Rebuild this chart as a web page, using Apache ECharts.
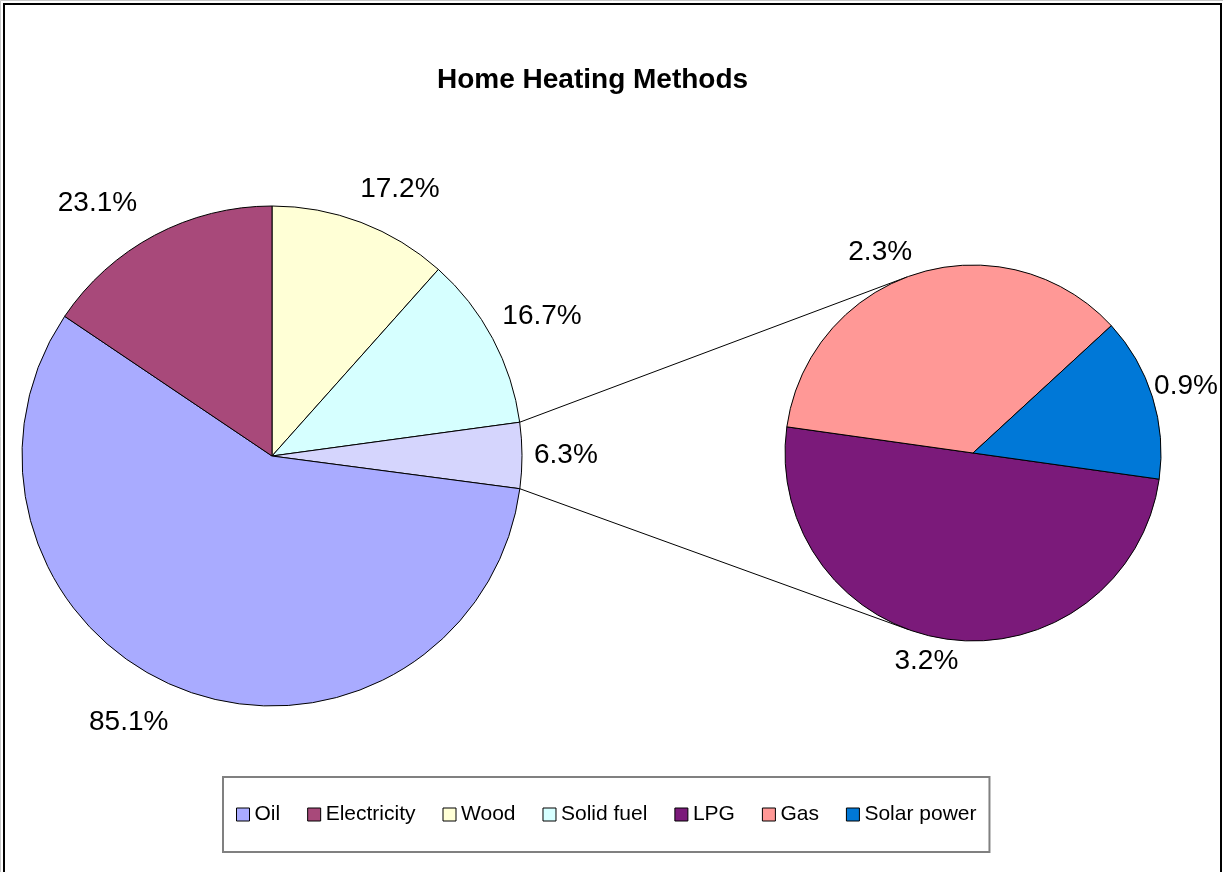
<!DOCTYPE html>
<html>
<head>
<meta charset="utf-8">
<script src="https://cdn.jsdelivr.net/npm/echarts@6/dist/echarts.min.js"></script>
<style>
  html, body { margin: 0; padding: 0; background: #fff; }
  #chart { width: 1223px; height: 872px; }
</style>
</head>
<body>
<div id="chart"></div>
<script>
  // main pie, clockwise from 12 o'clock
  var mainNames = ['Wood', 'Solid fuel', 'Other', 'Oil', 'Electricity'];
  var mainValues = [17.2, 16.7, 6.3, 85.1, 23.1];
  // second pie (breakdown of "Other")
  var subNames = ['LPG', 'Gas', 'Solar power'];
  var subValues = [3.2, 2.3, 0.9];
  var legendNames = ['Oil', 'Electricity', 'Wood', 'Solid fuel', 'LPG', 'Gas', 'Solar power'];

  var colors = {
    'Oil': '#A9ABFF', 'Electricity': '#A8497A', 'Wood': '#FFFFD6', 'Solid fuel': '#D6FFFF',
    'Other': '#D5D5FD', 'LPG': '#7B1A7A', 'Gas': '#FF9896', 'Solar power': '#0078D7'
  };

  var MAIN_C = [272, 456], MAIN_R = 250, MAIN_START = 90;
  var SUB_C = [973, 453], SUB_R = 188, SUB_START = -8;
  var FONT = 'Liberation Sans, Arial, sans-serif';

  function sum(arr) { return arr.reduce(function (a, b) { return a + b; }, 0); }

  // mid angle of slice i (degrees, math convention), pie drawn clockwise
  function midAngle(values, i, start) {
    var cum = 0;
    for (var k = 0; k < i; k++) cum += values[k];
    return start - (cum + values[i] / 2) / sum(values) * 360;
  }

  // Excel-like label placement: corner of the label box sits just outside the rim
  function placer(values, start, c, r, gap, nudgeX) {
    return function (params) {
      var m = midAngle(values, params.dataIndex, start) * Math.PI / 180;
      var ux = Math.cos(m), uy = -Math.sin(m);
      var w = params.labelRect.width, h = params.labelRect.height;
      var sx = Math.max(-1, Math.min(1, ux * 3));
      var sy = Math.max(-1, Math.min(1, uy * 2));
      return {
        x: c[0] + (r + gap) * ux + sx * w / 2 + nudgeX,
        y: c[1] + (r + gap) * uy + sy * h / 2,
        align: 'center',
        verticalAlign: 'middle'
      };
    };
  }

  // connector lines: from edges of the "Other" slice, tangent to the second pie
  var total = sum(mainValues);
  var oi = mainNames.indexOf('Other');
  var before = 0;
  for (var i = 0; i < oi; i++) before += mainValues[i];
  var a1 = before / total * 2 * Math.PI;
  var a2 = (before + mainValues[oi]) / total * 2 * Math.PI;

  function onMain(a) {
    return [MAIN_C[0] + MAIN_R * Math.sin(a), MAIN_C[1] - MAIN_R * Math.cos(a)];
  }
  function tangent(p, sign) {
    var dx = p[0] - SUB_C[0], dy = p[1] - SUB_C[1];
    var d = Math.sqrt(dx * dx + dy * dy);
    var t = Math.atan2(dy, dx) + sign * Math.acos(SUB_R / d);
    return [SUB_C[0] + SUB_R * Math.cos(t), SUB_C[1] + SUB_R * Math.sin(t)];
  }
  var pTop = onMain(a1), pBot = onMain(a2);
  var tTop = tangent(pTop, 1), tBot = tangent(pBot, -1);

  function items(names, values) {
    return names.map(function (n, i) {
      return { name: n, value: values[i], itemStyle: { color: colors[n] } };
    });
  }

  var labelStyle = {
    show: true,
    position: 'outside',
    formatter: '{c}%',
    fontFamily: FONT,
    fontSize: 28,
    color: '#000'
  };

  var myChart = echarts.init(document.getElementById('chart'));
  myChart.setOption({
    animation: false,
    backgroundColor: '#fff',
    title: {
      text: 'Home Heating Methods',
      left: 432,
      top: 61,
      textStyle: { fontFamily: FONT, fontSize: 28, fontWeight: 'bold', color: '#000' }
    },
    legend: {
      data: legendNames,
      left: 223,
      top: 777,
      icon: 'rect',
      itemWidth: 13,
      itemHeight: 13,
      itemGap: 27,
      padding: [27, 13],
      borderColor: '#808080',
      borderWidth: 2,
      itemStyle: { borderColor: '#000', borderWidth: 1 },
      textStyle: { fontFamily: FONT, fontSize: 21, color: '#000' },
      selectedMode: false
    },
    graphic: [
      { type: 'rect', shape: { x: 0.5, y: 0.5, width: 1230, height: 900 },
        style: { fill: 'none', stroke: '#c8c8c8', lineWidth: 1 }, silent: true },
      { type: 'rect', shape: { x: 4, y: 4, width: 1217, height: 900 },
        style: { fill: 'none', stroke: '#000', lineWidth: 2 }, silent: true },
      { type: 'line', shape: { x1: pTop[0], y1: pTop[1], x2: tTop[0], y2: tTop[1] },
        style: { stroke: '#000', lineWidth: 1 }, silent: true },
      { type: 'line', shape: { x1: pBot[0], y1: pBot[1], x2: tBot[0], y2: tBot[1] },
        style: { stroke: '#000', lineWidth: 1 }, silent: true }
    ],
    series: [
      {
        name: 'Main',
        type: 'pie',
        center: MAIN_C,
        radius: MAIN_R,
        startAngle: MAIN_START,
        clockwise: true,
        avoidLabelOverlap: false,
        emphasis: { disabled: true },
        itemStyle: { borderColor: '#000', borderWidth: 1 },
        label: labelStyle,
        labelLine: { show: false },
        labelLayout: placer(mainValues, MAIN_START, MAIN_C, MAIN_R, 20, -8),
        data: items(mainNames, mainValues)
      },
      {
        name: 'Other',
        type: 'pie',
        center: SUB_C,
        radius: SUB_R,
        startAngle: SUB_START,
        clockwise: true,
        avoidLabelOverlap: false,
        emphasis: { disabled: true },
        itemStyle: { borderColor: '#000', borderWidth: 1 },
        label: labelStyle,
        labelLine: { show: false },
        labelLayout: placer(subValues, SUB_START, SUB_C, SUB_R, 8, -6),
        data: items(subNames, subValues)
      }
    ]
  });
</script>
</body>
</html>
